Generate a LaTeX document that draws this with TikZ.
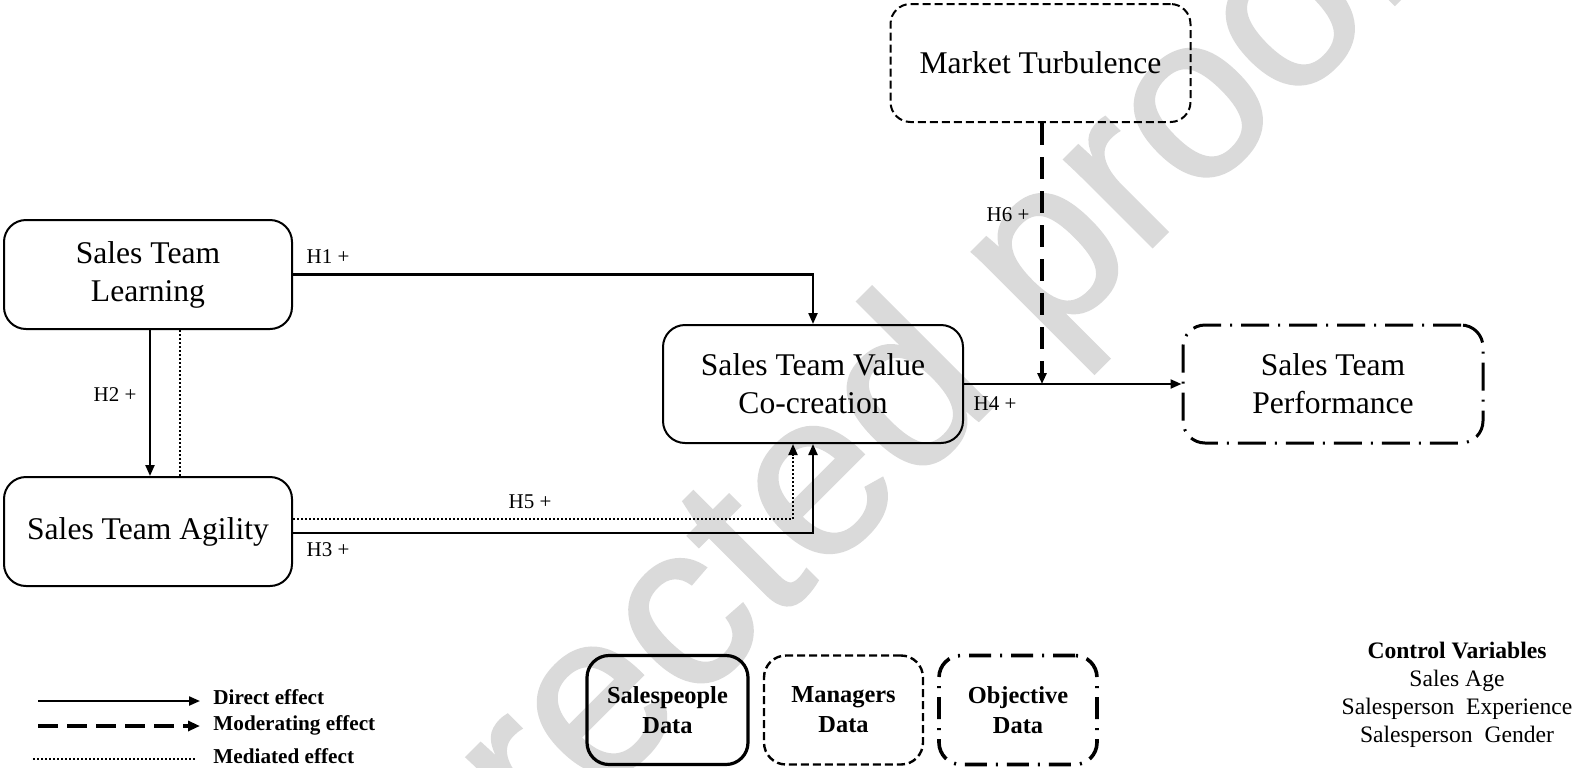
\documentclass[tikz,border=0pt]{standalone}
\usepackage{fontspec}
\setmainfont{Liberation Serif}
\newfontfamily\wmfont[BoldFont={Liberation Sans}, BoldFeatures={FakeBold=1.2}]{Liberation Sans}
\usetikzlibrary{arrows.meta}
\definecolor{wmgray}{RGB}{218,218,218}

\tikzset{
  box/.style={draw, rounded corners=11pt, align=center, inner sep=0pt,
    line width=1pt, font=\fontsize{15.8}{19}\selectfont},
  bigbox/.style={box, minimum width=144pt, minimum height=54.5pt},
  widebox/.style={box, minimum width=150pt, minimum height=59pt},
  mgrdash/.style={dash pattern=on 4pt off 2pt},
  objdash/.style={dash pattern=on 14pt off 4.5pt on 1pt off 4.5pt},
  databox/.style={draw, rounded corners=11pt, align=center, inner sep=0pt,
    minimum height=54.5pt, font=\bfseries\fontsize{12.2}{15}\selectfont},
  tip/.style={-{Triangle[length=5.5pt,width=4.5pt]}},
  direct/.style={line width=1.1pt},
  moder/.style={line width=2.2pt, dash pattern=on 11pt off 6pt},
  medi/.style={line width=1pt, dash pattern=on 1pt off 1pt},
  hlab/.style={font=\fontsize{10.5}{12}\selectfont, inner sep=0pt},
  leglab/.style={anchor=west, inner sep=0pt, font=\bfseries\fontsize{10.6}{12}\selectfont}
}

\begin{document}
\begin{tikzpicture}[x=0.5pt, y=-0.5pt]
\useasboundingbox (0,0) rectangle (1576,767);

% watermark behind everything
\begin{scope}
  \clip (0,0) rectangle (1576,767);
  \node[rotate=45, anchor=base, text=wmgray, inner sep=0pt,
    font=\wmfont\bfseries\fontsize{117}{117}\selectfont] (wm) at (870,529) {corrected proof};
\end{scope}

% constructs
\node[bigbox] (L) at (148,274.5) {Sales Team\\Learning};
\node[bigbox] (A) at (148,531.5) {Sales Team Agility};
\node[widebox] (V) at (813,384) {Sales Team Value\\Co-creation};
\node[widebox, line width=1.5pt, objdash] (P) at (1333,384) {Sales Team\\Performance};
\node[widebox, mgrdash, rounded corners=10pt] (M) at (1040.5,63) {Market Turbulence};

% hypothesised paths
\draw[direct, tip] (L.east) -| (V.north);
\draw[direct, tip] ([xshift=1pt]L.south) -- ([xshift=1pt]A.north);
\draw[medi] ([xshift=16pt]L.south) -- ([xshift=16pt]A.north);
\draw[medi, tip] ([yshift=6.25pt]A.east) -| ([xshift=-10pt]V.south);
\draw[direct, tip] ([yshift=-0.75pt]A.east) -| (V.south);
\draw[direct, tip] (V.east) -- (P.west);
\coordinate (mj) at (1042,384);
\draw[moder, tip] (M.south -| mj) -- (mj);

% path labels
\node[hlab] (h1) at (328,257) {H1 +};
\node[hlab] (h2) at (115,395) {H2 +};
\node[hlab] (h3) at (328,550) {H3 +};
\node[hlab] (h5) at (530,502) {H5 +};
\node[hlab] (h4) at (995,404) {H4 +};
\node[hlab] (h6) at (1008,215) {H6 +};

% legend
\coordinate (la1) at (38,701);  \coordinate (lb1) at (200,701);
\coordinate (la2) at (38,726);  \coordinate (lb2) at (200,726);
\coordinate (la3) at (33,759);  \coordinate (lb3) at (195,759);
\draw[direct, tip] (la1) -- (lb1);
\draw[moder, line width=2.3pt, dash pattern=on 10pt off 4.5pt,
  -{Triangle[length=6pt,width=5pt]}] (la2) -- (lb2);
\draw[medi, line width=0.9pt] (la3) -- (lb3);
\node[leglab] (t1) at (213,697) {Direct effect};
\node[leglab] (t2) at (213,725) {Moderating effect};
\node[leglab] (t3) at (213,756) {Mediated effect};

% data sources
\node[databox, line width=1.6pt, minimum width=80.5pt] (sd) at (667.5,710) {Salespeople\\Data};
\node[databox, line width=1.2pt, mgrdash, minimum width=79.5pt] (md) at (843.5,710) {Managers\\Data};
\node[databox, line width=1.8pt, dash pattern=on 11pt off 4.5pt on 1pt off 4.5pt,
  minimum width=79pt] (od) at (1018,710) {Objective\\Data};

% control variables
\node[align=center, inner sep=0pt, font=\fontsize{11.8}{14}\selectfont] (cv) at (1457,695)
  {\textbf{Control Variables}\\Sales Age\\Salesperson\enspace Experience\\Salesperson\enspace Gender};
\end{tikzpicture}
\end{document}
